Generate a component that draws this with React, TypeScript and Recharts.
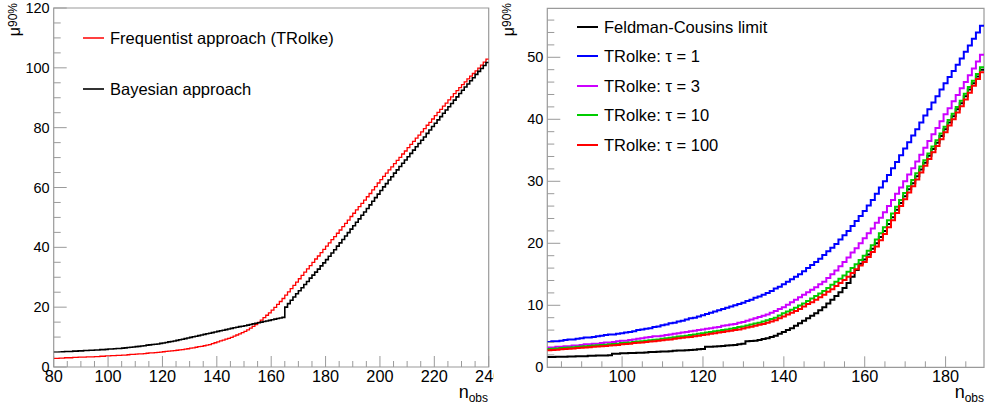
import { LineChart, Line, XAxis, YAxis, ReferenceArea, Legend } from "recharts";

// ---------- left pad: n_obs 80..239 (bin low edges, width 1) ----------
const leftFirstBin = 80;
const frequentistLeft = [
  2.9, 2.9, 3.0, 3.0, 3.1, 3.1, 3.1, 3.2, 3.2, 3.3,
  3.3, 3.3, 3.4, 3.4, 3.4, 3.5, 3.5, 3.6, 3.6, 3.7,
  3.7, 3.8, 3.8, 3.9, 3.9, 4.0, 4.0, 4.1, 4.2, 4.2,
  4.3, 4.4, 4.4, 4.5, 4.6, 4.7, 4.7, 4.8, 4.9, 5.0,
  5.1, 5.2, 5.3, 5.4, 5.5, 5.6, 5.7, 5.8, 6.0, 6.1,
  6.3, 6.4, 6.6, 6.8, 6.9, 7.1, 7.3, 7.5, 7.8, 8.1,
  8.4, 8.7, 9.0, 9.3, 9.6, 9.9, 10.3, 10.7, 11.1, 11.5,
  11.9, 12.4, 13.0, 13.6, 14.2, 14.9, 15.7, 16.5, 17.3, 18.1,
  19.0, 19.9, 20.9, 21.9, 22.9, 24.0, 25.1, 26.2, 27.3, 28.4,
  29.5, 30.6, 31.7, 32.8, 33.9, 35.0, 36.1, 37.1, 38.2, 39.3,
  40.4, 41.5, 42.6, 43.6, 44.7, 45.8, 46.9, 48.0, 49.1, 50.3,
  51.4, 52.5, 53.6, 54.7, 55.8, 56.9, 58.0, 59.2, 60.3, 61.5,
  62.6, 63.7, 64.8, 65.9, 66.9, 68.0, 69.1, 70.1, 71.2, 72.2,
  73.3, 74.4, 75.4, 76.5, 77.5, 78.6, 79.7, 80.8, 81.8, 82.9,
  84.0, 85.1, 86.1, 87.2, 88.2, 89.3, 90.3, 91.4, 92.4, 93.4,
  94.4, 95.3, 96.3, 97.2, 98.1, 99.0, 99.9, 100.9, 101.9, 102.9,
];
const bayesianLeft = [
  5.0, 5.0, 5.1, 5.1, 5.2, 5.2, 5.2, 5.3, 5.3, 5.4,
  5.4, 5.5, 5.5, 5.6, 5.6, 5.7, 5.7, 5.8, 5.8, 5.9,
  6.0, 6.0, 6.1, 6.2, 6.2, 6.3, 6.4, 6.5, 6.6, 6.7,
  6.8, 6.9, 7.0, 7.1, 7.3, 7.4, 7.5, 7.6, 7.7, 7.9,
  8.0, 8.2, 8.4, 8.5, 8.7, 8.9, 9.1, 9.3, 9.5, 9.7,
  9.9, 10.1, 10.3, 10.5, 10.7, 10.9, 11.1, 11.3, 11.5, 11.7,
  11.9, 12.1, 12.3, 12.5, 12.7, 12.9, 13.1, 13.3, 13.5, 13.6,
  13.8, 14.0, 14.2, 14.4, 14.6, 14.8, 15.0, 15.2, 15.4, 15.6,
  15.8, 16.0, 16.2, 16.4, 16.6, 20.0, 21.2, 22.3, 23.4, 24.5,
  25.5, 26.5, 27.6, 28.6, 29.7, 30.7, 31.7, 32.7, 33.8, 34.8,
  35.9, 37.0, 38.1, 39.2, 40.4, 41.5, 42.6, 43.8, 44.9, 46.1,
  47.2, 48.4, 49.5, 50.7, 51.8, 53.0, 54.2, 55.4, 56.6, 57.8,
  59.0, 60.2, 61.3, 62.5, 63.6, 64.8, 65.9, 67.0, 68.1, 69.2,
  70.3, 71.4, 72.5, 73.6, 74.7, 75.8, 76.9, 78.1, 79.2, 80.4,
  81.5, 82.6, 83.7, 84.8, 85.9, 87.0, 88.1, 89.2, 90.3, 91.4,
  92.5, 93.6, 94.6, 95.7, 96.7, 97.8, 98.8, 99.8, 100.8, 101.8,
];
const leftXTicks = [80, 85, 90, 95, 100, 105, 110, 115, 120, 125, 130, 135, 140, 145, 150, 155, 160, 165, 170, 175, 180, 185, 190, 195, 200, 205, 210, 215, 220, 225, 230, 235, 240];
const leftXMajor = [80, 100, 120, 140, 160, 180, 200, 220, 240];
const leftYTicks = [0, 5, 10, 15, 20, 25, 30, 35, 40, 45, 50, 55, 60, 65, 70, 75, 80, 85, 90, 95, 100, 105, 110, 115, 120];
const leftYMajor = [0, 20, 40, 60, 80, 100, 120];

// ---------- right pad: n_obs 82..189 (bins centred on integers) ----------
const rightFirstBin = 82;
const feldmanCousins = [
  1.65, 1.65, 1.7, 1.7, 1.7, 1.75, 1.75, 1.8,
  1.8, 1.8, 1.85, 1.85, 1.9, 1.9, 1.9, 1.95, 2.2, 2.2,
  2.25, 2.25, 2.3, 2.3, 2.35, 2.35, 2.4, 2.45, 2.45, 2.5,
  2.55, 2.55, 2.6, 2.65, 2.7, 2.7, 2.75, 2.8, 2.85, 2.9,
  2.95, 3.3, 3.3, 3.35, 3.4, 3.45, 3.5, 3.55, 3.6, 3.7,
  3.8, 4.2, 4.25, 4.3, 4.4, 4.55, 4.7, 4.9, 5.1, 5.4,
  5.7, 6.0, 6.3, 6.7, 7.1, 7.5, 7.9, 8.3, 8.7, 9.2,
  9.7, 10.3, 10.9, 11.5, 12.1, 12.8, 13.6, 14.6, 15.7, 16.7,
  17.4, 18.2, 19.1, 20.0, 21.0, 22.0, 23.1, 24.2, 25.4, 26.5,
  27.6, 28.7, 29.7, 30.8, 31.9, 33.0, 34.1, 35.2, 36.2, 37.3,
  38.4, 39.5, 40.5, 41.6, 42.6, 43.7, 44.8, 45.8, 46.9, 48.0,
];
const rolkeTau1 = [
  4.1, 4.2, 4.2, 4.3, 4.4, 4.5, 4.5, 4.6,
  4.7, 4.8, 4.8, 4.9, 5.0, 5.1, 5.2, 5.3, 5.3, 5.4,
  5.5, 5.6, 5.7, 5.8, 6.0, 6.1, 6.2, 6.3, 6.5, 6.6,
  6.8, 6.9, 7.1, 7.2, 7.4, 7.5, 7.7, 7.9, 8.0, 8.2,
  8.4, 8.6, 8.8, 9.0, 9.2, 9.4, 9.6, 9.8, 10.0, 10.2,
  10.4, 10.7, 10.9, 11.2, 11.4, 11.7, 12.0, 12.3, 12.7, 13.0,
  13.4, 13.8, 14.2, 14.6, 15.0, 15.5, 16.0, 16.5, 17.0, 17.5,
  18.1, 18.7, 19.3, 19.9, 20.6, 21.3, 22.0, 22.8, 23.6, 24.4,
  25.2, 26.1, 27.0, 28.0, 29.0, 30.0, 31.0, 32.1, 33.1, 34.2,
  35.3, 36.3, 37.4, 38.4, 39.5, 40.6, 41.6, 42.7, 43.7, 44.8,
  45.8, 46.8, 47.8, 48.8, 49.8, 50.9, 51.9, 53.0, 54.0, 55.1,
];
const rolkeTau3 = [
  3.2, 3.2, 3.3, 3.3, 3.4, 3.4, 3.5, 3.5,
  3.6, 3.7, 3.7, 3.8, 3.8, 3.9, 4.0, 4.0, 4.1, 4.2,
  4.3, 4.3, 4.4, 4.5, 4.6, 4.7, 4.8, 4.9, 5.0, 5.0,
  5.1, 5.2, 5.3, 5.4, 5.5, 5.6, 5.7, 5.8, 5.9, 6.0,
  6.1, 6.2, 6.3, 6.4, 6.5, 6.7, 6.8, 6.9, 7.0, 7.2,
  7.3, 7.5, 7.7, 7.9, 8.1, 8.3, 8.5, 8.8, 9.1, 9.4,
  9.7, 10.1, 10.5, 10.9, 11.3, 11.7, 12.1, 12.5, 12.9, 13.4,
  13.8, 14.4, 15.0, 15.6, 16.3, 17.0, 17.7, 18.5, 19.2, 20.0,
  20.8, 21.6, 22.4, 23.3, 24.1, 25.0, 26.0, 27.0, 28.0, 29.0,
  30.0, 31.1, 32.1, 33.2, 34.3, 35.4, 36.5, 37.6, 38.6, 39.7,
  40.8, 41.8, 42.9, 43.9, 45.0, 46.0, 47.1, 48.2, 49.3, 50.4,
];
const rolkeTau10 = [
  2.95, 3.0, 3.05, 3.1, 3.15, 3.2, 3.25, 3.3,
  3.35, 3.4, 3.45, 3.5, 3.55, 3.6, 3.65, 3.7, 3.75, 3.8,
  3.9, 3.95, 4.0, 4.1, 4.15, 4.2, 4.3, 4.35, 4.45, 4.5,
  4.6, 4.7, 4.75, 4.85, 4.95, 5.0, 5.1, 5.2, 5.3, 5.4,
  5.5, 5.6, 5.7, 5.8, 5.9, 6.0, 6.1, 6.2, 6.35, 6.5,
  6.6, 6.75, 6.9, 7.05, 7.2, 7.4, 7.6, 7.8, 8.0, 8.35,
  8.7, 9.0, 9.3, 9.6, 9.95, 10.3, 10.7, 11.1, 11.5, 11.9,
  12.3, 12.8, 13.3, 13.8, 14.3, 14.8, 15.4, 16.0, 16.6, 17.3,
  18.0, 18.8, 19.7, 20.6, 21.6, 22.6, 23.7, 24.8, 25.9, 27.0,
  28.1, 29.2, 30.2, 31.3, 32.4, 33.4, 34.5, 35.6, 36.6, 37.7,
  38.8, 39.9, 40.9, 42.0, 43.0, 44.1, 45.2, 46.2, 47.3, 48.4,
];
const rolkeTau100 = [
  2.75, 2.8, 2.85, 2.9, 2.95, 3.0, 3.05, 3.1,
  3.15, 3.2, 3.25, 3.3, 3.35, 3.4, 3.45, 3.5, 3.55, 3.6,
  3.7, 3.75, 3.8, 3.9, 3.95, 4.0, 4.1, 4.15, 4.2, 4.3,
  4.35, 4.45, 4.5, 4.6, 4.7, 4.75, 4.85, 4.9, 5.0, 5.1,
  5.2, 5.3, 5.4, 5.5, 5.6, 5.7, 5.8, 5.9, 6.0, 6.1,
  6.25, 6.4, 6.55, 6.7, 6.85, 7.0, 7.2, 7.4, 7.6, 7.9,
  8.2, 8.5, 8.8, 9.1, 9.4, 9.8, 10.2, 10.5, 10.9, 11.3,
  11.7, 12.2, 12.6, 13.1, 13.6, 14.1, 14.6, 15.2, 15.8, 16.4,
  17.0, 17.8, 18.6, 19.5, 20.5, 21.5, 22.6, 23.7, 24.9, 26.0,
  27.1, 28.2, 29.2, 30.3, 31.4, 32.5, 33.6, 34.7, 35.7, 36.8,
  37.9, 39.0, 40.0, 41.1, 42.1, 43.2, 44.3, 45.4, 46.5, 47.6,
];
const rightXTicks = [85, 90, 95, 100, 105, 110, 115, 120, 125, 130, 135, 140, 145, 150, 155, 160, 165, 170, 175, 180, 185];
const rightXMajor = [100, 120, 140, 160, 180];
const rightYTicks = [0, 2, 4, 6, 8, 10, 12, 14, 16, 18, 20, 22, 24, 26, 28, 30, 32, 34, 36, 38, 40, 42, 44, 46, 48, 50, 52, 54, 56];
const rightYMajor = [0, 10, 20, 30, 40, 50];

const leftSeries = [
  { key: "freq", name: "Frequentist approach (TRolke)", color: "#ff0000", width: 1.3, values: frequentistLeft },
  { key: "bayes", name: "Bayesian approach", color: "#000000", width: 1.6, values: bayesianLeft },
];
const rightSeries = [
  { key: "fc", name: "Feldman-Cousins limit", color: "#000000", width: 2, values: feldmanCousins },
  { key: "t1", name: "TRolke: \u03c4 = 1", color: "#0000ff", width: 2, values: rolkeTau1 },
  { key: "t3", name: "TRolke: \u03c4 = 3", color: "#cc00ff", width: 2, values: rolkeTau3 },
  { key: "t10", name: "TRolke: \u03c4 = 10", color: "#00cc00", width: 2, values: rolkeTau10 },
  { key: "t100", name: "TRolke: \u03c4 = 100", color: "#ff0000", width: 2, values: rolkeTau100 },
];

const AXIS = "#9a9a9a";
const FONT = "'Liberation Sans', Arial, Helvetica, sans-serif";

// histogram-style rows: one point per bin low edge, plus closing edge
function histRows(series: any[], firstEdge: number) {
  const n = series[0].values.length;
  const rows: any[] = [];
  for (let i = 0; i <= n; i++) {
    const row: any = { x: firstEdge + i };
    series.forEach((s) => (row[s.key] = s.values[Math.min(i, n - 1)]));
    rows.push(row);
  }
  return rows;
}

const leftRows = histRows(leftSeries, leftFirstBin);
const rightRows = histRows(rightSeries, rightFirstBin - 0.5);

function XTick({ x, y, payload, majors }: any) {
  const major = majors.includes(payload.value);
  return (
    <g>
      <line x1={x} x2={x} y1={y} y2={y - (major ? 11 : 6)} stroke={AXIS} />
      {major && (
        <text x={x} y={y + 15} textAnchor="middle" fontSize={16.3} fill="#000">{payload.value}</text>
      )}
    </g>
  );
}

function YTick({ x, y, payload, majors }: any) {
  const major = majors.includes(payload.value);
  return (
    <g>
      <line x1={x} x2={x + (major ? 13 : 7)} y1={y} y2={y} stroke={AXIS} />
      {major && (
        <text x={x - 4} y={y + 5} textAnchor="end" fontSize={14.5} fill="#000">{payload.value}</text>
      )}
    </g>
  );
}

function MuTitle() {
  return (
    <text transform="translate(20,3) rotate(-90)" textAnchor="end" fontSize={16} fill="#000">
      μ<tspan fontSize={12} dy={-3}>90%</tspan>
    </text>
  );
}

function NobsTitle({ right }: any) {
  return (
    <text x={right} y={398} textAnchor="end" fontSize={18} fill="#000">
      n<tspan fontSize={12} dy={4}>obs</tspan>
    </text>
  );
}

function LegendBox({ series, top, step }: any) {
  return (
    <div style={{ position: "relative", width: 400, height: 200, fontFamily: FONT }}>
      {series.map((s: any, i: number) => (
        <div key={s.key} style={{ position: "absolute", left: 83, top: top + i * step - 10, height: 20, display: "flex", alignItems: "center", whiteSpace: "nowrap" }}>
          <svg width={21} height={6} style={{ marginRight: 6, display: "block" }}>
            <line x1={0} x2={21} y1={3} y2={3} stroke={s.color} strokeWidth={Math.max(s.width, 1.5)} />
          </svg>
          <span style={{ fontSize: 16.5, lineHeight: "20px", color: "#000" }}>{s.name}</span>
        </div>
      ))}
    </div>
  );
}

function Pad({ rows, series, xDomain, yDomain, xTicks, xMajor, yTicks, yMajor, margin, legendTop, legendStep, titleRight }: any) {
  return (
    <LineChart width={494} height={405} data={rows} margin={margin} style={{ fontFamily: FONT }}>
      <XAxis
        dataKey="x" type="number" domain={xDomain} allowDataOverflow ticks={xTicks} interval={0}
        height={30} tickSize={0} tickMargin={0} axisLine={false} tickLine={false}
        tick={(p: any) => <XTick {...p} majors={xMajor} />}
        label={<NobsTitle right={titleRight} />}
      />
      <YAxis
        type="number" domain={yDomain} allowDataOverflow ticks={yTicks} interval={0}
        width={40} tickSize={0} tickMargin={0} axisLine={false} tickLine={false}
        tick={(p: any) => <YTick {...p} majors={yMajor} />}
        label={<MuTitle />}
      />
      <ReferenceArea x1={xDomain[0]} x2={xDomain[1]} y1={yDomain[0]} y2={yDomain[1]} fill="none" stroke={AXIS} strokeWidth={1.2} ifOverflow="visible" />
      {series.map((s: any) => (
        <Line key={s.key} dataKey={s.key} name={s.name} type="stepAfter" stroke={s.color} strokeWidth={s.width}
          dot={false} activeDot={false} isAnimationActive={false} />
      ))}
      <Legend layout="horizontal" align="center" verticalAlign="middle"
        wrapperStyle={{ left: 0, top: 0, width: 400, height: 200 }}
        content={() => <LegendBox series={series} top={legendTop} step={legendStep} />} />
    </LineChart>
  );
}

export default function App() {
  return (
    <div style={{ position: "absolute", left: 0, top: 0, width: 988, height: 405, background: "#fff", fontFamily: FONT }}>
      <div style={{ position: "absolute", left: 0, top: 0 }}>
        <Pad rows={leftRows} series={leftSeries} xDomain={[80, 240]} yDomain={[0, 120]}
          xTicks={leftXTicks} xMajor={leftXMajor} yTicks={leftYTicks} yMajor={leftYMajor}
          margin={{ top: 8, right: 5.3, bottom: 8, left: 13.7 }}
          legendTop={37.7} legendStep={51} titleRight={488} />
      </div>
      <div style={{ position: "absolute", left: 494, top: 0 }}>
        <Pad rows={rightRows} series={rightSeries} xDomain={[81.5, 189.5]} yDomain={[0, 57.9]}
          xTicks={rightXTicks} xMajor={rightXMajor} yTicks={rightYTicks} yMajor={rightYMajor}
          margin={{ top: 8.3, right: 4, bottom: 7.7, left: 13.3 }}
          legendTop={26.7} legendStep={29.5} titleRight={490} />
      </div>
    </div>
  );
}
